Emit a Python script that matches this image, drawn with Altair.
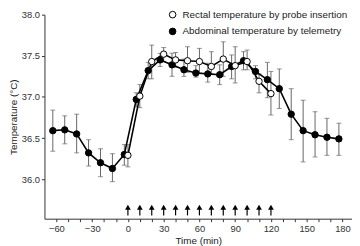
import altair as alt
import pandas as pd

# ---- data ----
abd_t = [-63, -53, -43, -33, -23, -13, -3, 7, 17, 27, 37, 47, 57, 67, 77, 87, 97,
         107, 117, 127, 137, 147, 157, 167, 177]
abd_v = [36.59, 36.60, 36.55, 36.32, 36.20, 36.13, 36.30, 36.97, 37.32, 37.45, 37.39,
         37.33, 37.29, 37.28, 37.27, 37.37, 37.44, 37.31, 37.21, 37.10, 36.79, 36.59,
         36.54, 36.51, 36.49]
abd_hi = [36.84, 36.77, 36.79, 36.48, 36.37, 36.31, 36.42, 37.05, 37.42, 37.53, 37.53,
          37.46, 37.38, 37.41, 37.39, 37.51, 37.55, 37.38, 37.42, 37.34, 37.10, 36.96,
          36.82, 36.74, 36.68]
abd_lo = [36.34, 36.43, 36.32, 36.16, 36.03, 35.97, 36.17, 36.88, 37.22, 37.37, 37.25,
          37.25, 37.24, 37.18, 37.15, 37.22, 37.33, 37.22, 36.99, 36.86, 36.48, 36.21,
          36.27, 36.29, 36.29]

rec_t = [0, 10, 20, 30, 40, 50, 60, 70, 80, 90, 100, 110, 120]
rec_v = [36.29, 37.01, 37.43, 37.52, 37.45, 37.44, 37.43, 37.37, 37.46, 37.38, 37.43,
         37.19, 37.04]
rec_hi = [36.42, 37.15, 37.63, 37.60, 37.54, 37.61, 37.59, 37.55, 37.67, 37.61, 37.57,
          37.28, 37.31]
rec_lo = [36.15, 36.87, 37.22, 37.43, 37.36, 37.30, 37.29, 37.28, 37.25, 37.17, 37.33,
          37.05, 36.78]

arrow_t = [0, 10, 20, 30, 40, 50, 60, 70, 80, 90, 100, 110, 120]

REC = "Rectal temperature by probe insertion"
ABD = "Abdominal temperature by telemetry"

df = pd.concat([
    pd.DataFrame({"t": abd_t, "v": abd_v, "hi": abd_hi, "lo": abd_lo, "s": ABD}),
    pd.DataFrame({"t": rec_t, "v": rec_v, "hi": rec_hi, "lo": rec_lo, "s": REC}),
], ignore_index=True)
df["o"] = range(len(df))

arrows = pd.DataFrame({"t": arrow_t, "y0": 35.56, "y1": 35.64, "yh": 35.66})

xs = alt.Scale(domain=[-70, 188], nice=False, zero=False)
ys = alt.Scale(domain=[35.52, 38.0], nice=False, zero=False)

xaxis = alt.Axis(values=list(range(-60, 181, 10)),
                 labelExpr="datum.value % 30 == 0 ? datum.label : ''",
                 labelOverlap=False, grid=False)
yaxis = alt.Axis(values=[36.0, 36.5, 37.0, 37.5, 38.0], format=".1f",
                 labelOverlap=False, grid=False)


def X(f="t"):
    return alt.X(f"{f}:Q", scale=xs, title="Time (min)", axis=xaxis)


def Y(f):
    return alt.Y(f"{f}:Q", scale=ys, title="Temperature (°C)", axis=yaxis)


base = alt.Chart(df)

err = base.mark_rule(color="#666666", strokeWidth=1).encode(
    x=X(), y=Y("lo"), y2="hi:Q")
cap_hi = base.mark_tick(color="#666666", thickness=1, size=5, orient="horizontal").encode(
    x=X(), y=Y("hi"))
cap_lo = base.mark_tick(color="#666666", thickness=1, size=5, orient="horizontal").encode(
    x=X(), y=Y("lo"))

lines = base.mark_line(color="black", strokeWidth=1.6).encode(
    x=X(), y=Y("v"), detail="s:N")

pts = base.mark_point(shape="circle", size=42, filled=True, stroke="black",
                      strokeWidth=1, opacity=1).encode(
    x=X(), y=Y("v"),
    fill=alt.Fill("s:N", scale=alt.Scale(domain=[REC, ABD], range=["white", "black"]),
                  legend=alt.Legend(title=None, orient="none", legendX=125, legendY=-5,
                                    symbolType="circle", symbolSize=45,
                                    symbolStrokeColor="black", symbolStrokeWidth=1,
                                    labelFontSize=10, labelFont="Liberation Sans",
                                    labelColor="#222222", rowPadding=5, labelOffset=5,
                                    labelLimit=0)),
    order=alt.Order("o:Q"))

arr_shaft = alt.Chart(arrows).mark_rule(color="black", strokeWidth=1.2).encode(
    x=X(), y=Y("y0"), y2="y1:Q")
arr_head = alt.Chart(arrows).mark_point(shape="triangle-up", size=34, filled=True,
                                        color="black", opacity=1).encode(
    x=X(), y=Y("yh"))

chart = alt.layer(err, cap_hi, cap_lo, lines, pts, arr_shaft, arr_head).properties(
    width=312, height=207, padding=0
).configure_view(stroke=None).configure_axis(
    labelFont="Liberation Sans", titleFont="Liberation Sans",
    labelFontSize=9.5, titleFontSize=10, titleFontWeight="normal",
    labelColor="#333333", titleColor="#222222",
    domainColor="#333333", tickColor="#333333", tickSize=3,
    labelPadding=2, titlePadding=3
)

chart.save("out.html", embed_options={"renderer": "svg", "actions": False})
